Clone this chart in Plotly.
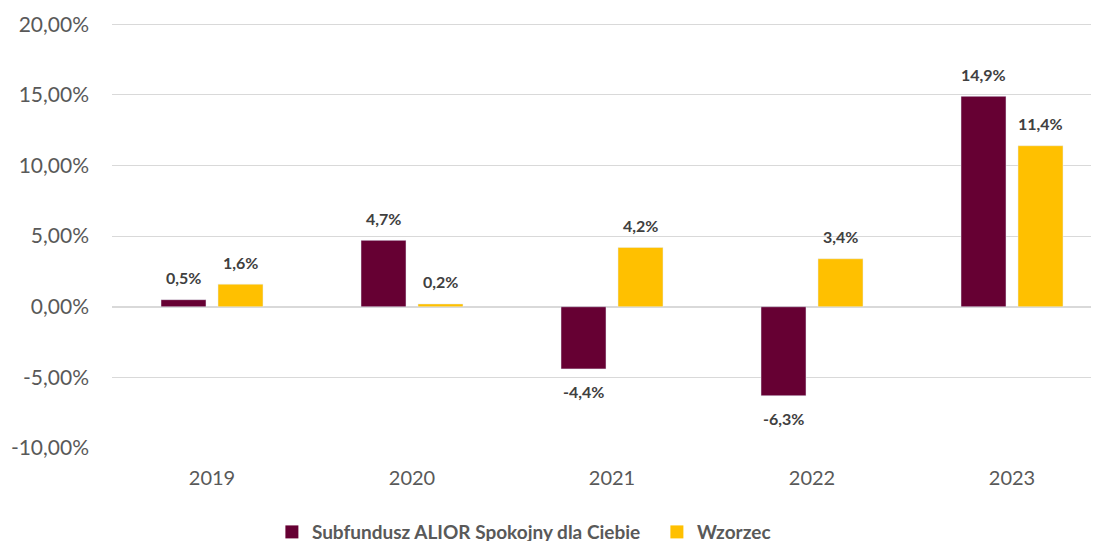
import plotly.graph_objects as go

years = ["2019", "2020", "2021", "2022", "2023"]
fund_name = "Subfundusz ALIOR Spokojny dla Ciebie"
bench_name = "Wzorzec"
fund_values = [0.5, 4.7, -4.4, -6.3, 14.9]
bench_values = [1.6, 0.2, 4.2, 3.4, 11.4]
y_ticks = [-10, -5, 0, 5, 10, 15, 20]
y_tick_labels = ["-10,00%", "-5,00%", "0,00%", "5,00%", "10,00%", "15,00%", "20,00%"]

MAROON = "#660033"
YELLOW = "#FFC000"
FONT = "Lato"


def fmt(v):
    return f"{v:.1f}".replace(".", ",") + "%"


fig = go.Figure()
fig.add_trace(go.Bar(x=years, y=fund_values, name=fund_name, marker_color=MAROON,
                     width=0.225, offset=-0.255, showlegend=False))
fig.add_trace(go.Bar(x=years, y=bench_values, name=bench_name, marker_color=YELLOW,
                     width=0.225, offset=0.03, showlegend=False))
# legend entries with larger square symbols
for name, col in ((fund_name, MAROON), (bench_name, YELLOW)):
    fig.add_trace(go.Scatter(x=[None], y=[None], mode="markers", name=name,
                             marker=dict(symbol="square", size=13, color=col)))

annotations = []
for vals, off in ((fund_values, -0.1425), (bench_values, 0.1425)):
    for i, v in enumerate(vals):
        annotations.append(dict(
            x=i + off, y=v, xref="x", yref="y", text=fmt(v), showarrow=False,
            yanchor="middle", yshift=22 if v >= 0 else -23,
            font=dict(family=FONT, size=16, color="#404040", weight="bold"),
        ))

fig.update_layout(
    width=1091, height=533,
    margin=dict(l=104, r=0, t=12, b=93, autoexpand=False),
    paper_bgcolor="white", plot_bgcolor="white",
    separators=",.",
    barmode="group",
    showlegend=True,
    legend=dict(orientation="h", x=0.162, xanchor="left", y=-0.152, yanchor="top",
                font=dict(family=FONT, size=19, color="#595959", weight="bold"),
                entrywidth=340, entrywidthmode="pixels",
                itemclick=False, traceorder="normal"),
    annotations=annotations,
    xaxis=dict(type="category", range=[-0.5, 4.435], showgrid=False, zeroline=False,
               showline=False, ticks="", ticklabelstandoff=16,
               tickfont=dict(family=FONT, size=20, color="#595959")),
    yaxis=dict(range=[-10, 20.3], tickvals=y_ticks, ticktext=y_tick_labels,
               showgrid=True, gridcolor="#d9d9d9", gridwidth=1.3,
               zeroline=True, zerolinecolor="#d9d9d9", zerolinewidth=1.6,
               showline=False, ticks="", ticklabelstandoff=22,
               tickfont=dict(family=FONT, size=21, color="#595959")),
)

fig.write_html("out.html")
